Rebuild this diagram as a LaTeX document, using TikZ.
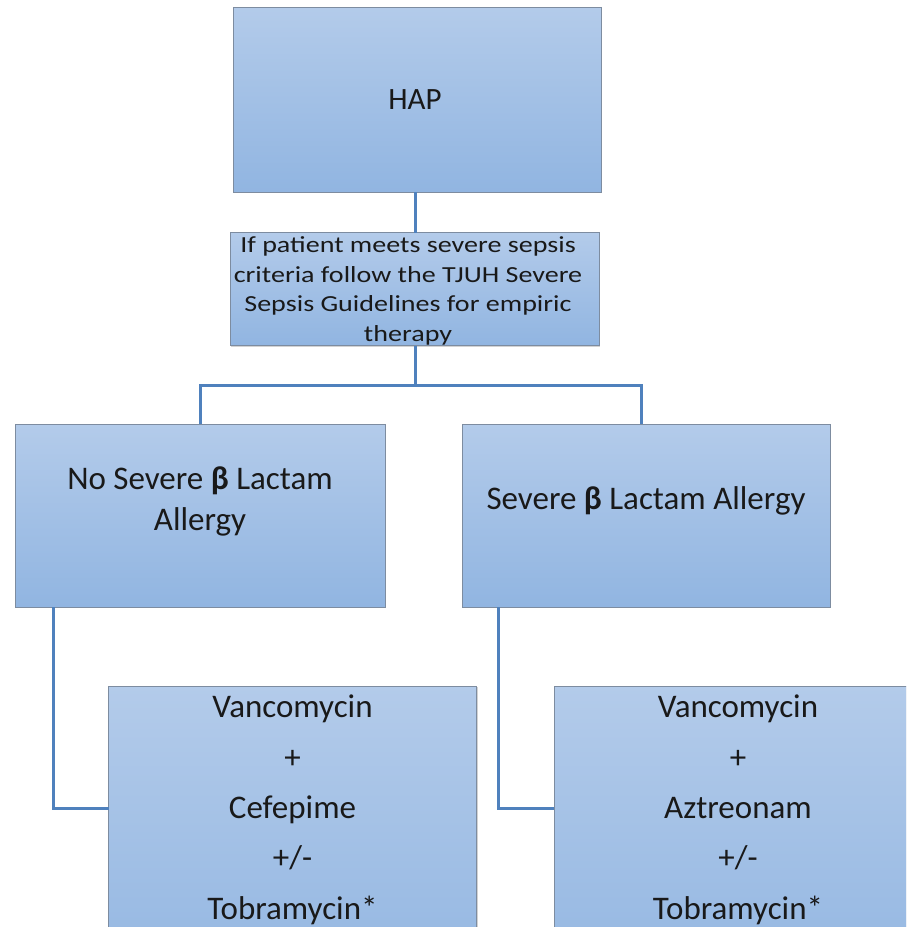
\documentclass[tikz,border=0pt]{standalone}
\usepackage{fontspec}
\setmainfont{Carlito}
\newfontfamily\sepfont[FakeStretch=1.22]{Carlito}
\usetikzlibrary{shadows}
\definecolor{boxtop}{RGB}{179,203,234}
\definecolor{boxbot}{RGB}{145,181,225}
\definecolor{boxline}{RGB}{125,140,160}
\definecolor{conn}{RGB}{79,129,189}
\begin{document}
\begin{tikzpicture}[x=1pt,y=-1pt,
  box/.style={draw=boxline, line width=0.9pt, top color=boxtop, bottom color=boxbot,
    inner sep=0pt, outer sep=0pt,
    drop shadow={shadow xshift=1.2pt, shadow yshift=-1.2pt, fill=black!35, opacity=0.5}},
  conn/.style={draw=conn, line width=3pt},
  txt/.style={inner sep=0pt, align=center, text=black!90}]
\useasboundingbox (0,0) rectangle (906,927);
\begin{scope}
\clip (0,0) rectangle (906,927);
% boxes
\node[box, minimum width=368pt, minimum height=185pt] (hap) at (417,99.5) {};
\node[txt, font=\fontsize{31}{37}\selectfont] (haptxt) at (415,100) {HAP};
\node[box, minimum width=369pt, minimum height=113pt] (sep) at (414.5,289) {};
\node[txt, font=\sepfont\fontsize{23}{29.5}\selectfont] (septxt) at (408,291)
  {If patient meets severe sepsis\\criteria follow the TJUH Severe\\Sepsis Guidelines for empiric\\therapy};
\node[box, minimum width=370pt, minimum height=183pt] (nosev) at (200,515.5) {};
\node[txt, font=\fontsize{33}{41}\selectfont] (nosevtxt) at (200,501)
  {No Severe {\bfseries β} Lactam\\Allergy};
\node[box, minimum width=368pt, minimum height=183pt] (sev) at (646,515.5) {};
\node[txt, font=\fontsize{33}{41}\selectfont] (sevtxt) at (646,501)
  {Severe {\bfseries β} Lactam Allergy};
\node[box, minimum width=368pt, minimum height=320pt] (lt) at (292.5,846) {};
\node[txt, font=\fontsize{33}{50.3}\selectfont, anchor=north] (lttxt) at (292.5,695)
  {Vancomycin\\+\\Cefepime\\+/-\\Tobramycin*};
\node[box, minimum width=368pt, minimum height=320pt] (rt) at (738,846) {};
\node[txt, font=\fontsize{33}{50.3}\selectfont, anchor=north] (rttxt) at (738,695)
  {Vancomycin\\+\\Aztreonam\\+/-\\Tobramycin*};
% connectors
\coordinate (jm) at (415,385);
\coordinate (jl) at (200,385);
\coordinate (jr) at (641,385);
\draw[conn] (jm |- hap.south) -- (jm |- sep.north);
\draw[conn] (jm |- sep.south) -- (jm);
\draw[conn] (jl |- nosev.north) -- (jl) -- (jr) -- (jr |- sev.north);
\draw[conn] (53,607) -- (53,808) -- (lt.west |- 0,808);
\draw[conn] (498,607) -- (498,808) -- (rt.west |- 0,808);
\end{scope}
\end{tikzpicture}
\end{document}
